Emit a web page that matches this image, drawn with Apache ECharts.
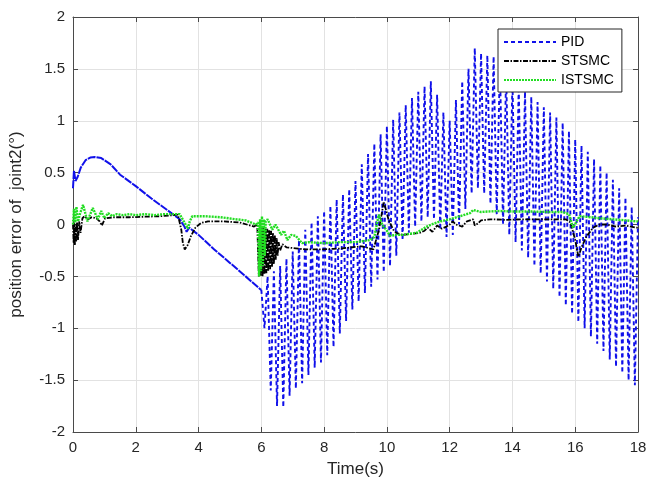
<!DOCTYPE html>
<html><head><meta charset="utf-8">
<script src="https://cdn.jsdelivr.net/npm/echarts@6/dist/echarts.min.js"></script>
<style>html,body{margin:0;padding:0;background:#fff}#c{width:650px;height:483px}</style>
</head><body><div id="c"></div>
<script>
const seriesNames = ['PID', 'STSMC', 'ISTSMC'];
const xLabelName = 'Time(s)';
const yLabelName = 'position error of  joint2(\u00b0)';

// PID, smooth part (0-6 s)
const pidSmooth = [
  [0,0.35],[0.03,0.52],[0.08,0.42],[0.15,0.46],[0.25,0.55],[0.4,0.62],[0.55,0.645],[0.7,0.65],
  [0.9,0.64],[1.2,0.58],[1.5,0.48],[2.0,0.37],[2.5,0.25],[3.0,0.14],[3.4,0.05],[3.55,-0.02],
  [3.62,-0.07],[3.7,-0.03],[4.0,-0.1],[4.5,-0.24],[5.0,-0.37],[5.5,-0.5],[5.95,-0.62],[6.0,-0.63]
];
// PID, oscillating part (6-18 s): successive peaks and troughs
const pidOsc = [
  [6.0,-0.63],[6.1,-1.0],[6.2,-0.5],[6.3,-1.6],[6.4,-0.45],[6.5,-1.75],[6.6,-0.4],[6.7,-1.76],
  [6.8,-0.33],[6.9,-1.65],[7.0,-0.26],[7.1,-1.58],[7.2,-0.15],[7.3,-1.53],[7.4,-0.05],[7.5,-1.45],
  [7.6,0.02],[7.7,-1.38],[7.8,0.08],[7.9,-1.33],[8.0,0.13],[8.1,-1.26],[8.2,0.18],[8.3,-1.18],
  [8.4,0.24],[8.5,-1.05],[8.6,0.29],[8.7,-0.93],[8.8,0.34],[8.9,-0.82],[9.0,0.42],[9.1,-0.74],
  [9.2,0.58],[9.3,-0.66],[9.4,0.68],[9.5,-0.6],[9.6,0.78],[9.7,-0.53],[9.8,0.87],[9.9,-0.46],
  [10.0,0.95],[10.1,-0.4],[10.2,1.01],[10.3,-0.3],[10.4,1.08],[10.5,-0.15],[10.6,1.15],[10.7,-0.08],
  [10.8,1.22],[10.9,-0.02],[11.0,1.28],[11.1,0.03],[11.2,1.33],[11.3,0.07],[11.4,1.38],[11.5,0.05],
  [11.6,1.25],[11.7,-0.05],[11.8,1.08],[11.9,-0.12],[12.0,1.0],[12.1,-0.1],[12.2,1.2],[12.3,0.0],
  [12.4,1.38],[12.5,0.15],[12.6,1.5],[12.7,0.3],[12.8,1.70],[12.9,0.35],[13.0,1.65],[13.1,0.3],
  [13.2,1.63],[13.3,0.2],[13.4,1.62],[13.5,0.1],[13.6,1.55],[13.7,0.0],[13.8,1.46],[13.9,-0.1],
  [14.0,1.38],[14.1,-0.17],[14.2,1.33],[14.3,-0.25],[14.4,1.28],[14.5,-0.32],[14.6,1.23],[14.7,-0.4],
  [14.8,1.18],[14.9,-0.47],[15.0,1.13],[15.1,-0.55],[15.2,1.08],[15.3,-0.62],[15.4,1.03],[15.5,-0.7],
  [15.6,0.98],[15.7,-0.78],[15.8,0.90],[15.9,-0.86],[16.0,0.82],[16.1,-0.94],[16.2,0.76],[16.3,-1.0],
  [16.4,0.70],[16.5,-1.08],[16.6,0.63],[16.7,-1.15],[16.8,0.57],[16.9,-1.22],[17.0,0.50],[17.1,-1.3],
  [17.2,0.43],[17.3,-1.37],[17.4,0.35],[17.5,-1.43],[17.6,0.26],[17.7,-1.5],[17.8,0.17],[17.9,-1.55],
  [18.0,0.07]
];

const stsmcData = [
  [0,0.0],[0.02,-0.18],[0.04,0.02],[0.06,-0.2],[0.08,0.0],[0.1,-0.17],[0.13,0.02],[0.16,-0.15],
  [0.2,0.03],[0.24,-0.08],[0.3,0.06],[0.37,0.08],[0.48,0.05],[0.6,0.07],[0.75,0.06],[0.85,0.03],
  [0.92,-0.01],[1.02,0.06],[1.3,0.07],[1.8,0.07],[2.3,0.075],[2.8,0.08],[3.2,0.09],[3.34,0.095],
  [3.45,-0.05],[3.5,-0.18],[3.56,-0.24],[3.65,-0.2],[3.76,-0.11],[3.9,-0.03],[4.08,0.015],[4.3,0.03],
  [4.8,0.03],[5.3,0.02],[5.77,-0.02],[5.87,0.0],
  [5.92,-0.5],[5.95,-0.02],[5.98,-0.5],[6.01,-0.03],[6.04,-0.5],[6.07,-0.03],[6.1,-0.48],[6.13,-0.04],
  [6.16,-0.47],[6.19,-0.04],[6.22,-0.45],[6.25,-0.05],[6.28,-0.43],[6.31,-0.06],[6.34,-0.41],[6.37,-0.08],
  [6.4,-0.38],[6.43,-0.1],[6.46,-0.34],[6.49,-0.13],[6.52,-0.3],[6.55,-0.17],[6.6,-0.25],
  [6.67,-0.19],[6.8,-0.22],[7.1,-0.23],[7.4,-0.24],[7.9,-0.24],[8.3,-0.235],[8.58,-0.23],[9.2,-0.21],
  [9.57,-0.24],[9.75,-0.05],[9.9,0.22],[10.05,0.05],[10.2,-0.05],[10.3,-0.08],[10.5,-0.1],[10.8,-0.09],
  [11.05,-0.08],[11.2,-0.06],[11.3,-0.03],[11.45,-0.07],[11.6,-0.01],[11.75,-0.04],[11.9,-0.02],[12.0,0.0],
  [12.1,0.03],[12.2,0.0],[12.4,-0.02],[12.55,0.03],[12.75,0.05],[12.8,-0.01],[12.9,0.01],[13.0,0.04],
  [13.3,0.05],[13.8,0.045],[14.3,0.05],[14.8,0.05],[15.3,0.05],[15.7,0.05],[15.85,0.02],[16.0,-0.15],
  [16.1,-0.31],[16.2,-0.22],[16.35,-0.12],[16.57,-0.03],[16.78,0.0],[17.0,0.0],[17.3,-0.02],[17.6,-0.01],
  [17.94,-0.03],[18,-0.03]
];

const istsmcData = [
  [0,0.0],[0.03,0.15],[0.07,0.02],[0.11,0.17],[0.16,0.03],[0.22,0.1],[0.32,0.19],[0.46,0.03],
  [0.63,0.16],[0.79,0.05],[0.9,0.13],[1.0,0.06],[1.12,0.11],[1.25,0.08],[1.4,0.1],[1.6,0.09],
  [1.8,0.1],[2.0,0.09],[2.3,0.1],[2.6,0.09],[2.9,0.1],[3.2,0.1],[3.4,0.1],[3.55,0.02],[3.66,-0.04],
  [3.72,0.03],[3.8,0.08],[4.2,0.08],[4.7,0.07],[5.2,0.05],[5.5,0.04],[5.83,0.0],[5.9,0.02],
  [5.93,-0.5],[5.96,0.05],[5.99,-0.45],[6.02,0.08],[6.05,-0.4],[6.08,0.05],[6.11,-0.3],[6.14,0.03],
  [6.2,0.05],[6.35,-0.05],[6.45,0.0],[6.63,-0.1],[6.72,-0.06],[6.83,-0.15],[6.95,-0.1],[7.1,-0.11],
  [7.3,-0.18],[7.5,-0.17],[8.0,-0.18],[8.5,-0.17],[9.0,-0.17],[9.47,-0.15],[9.6,-0.12],[9.74,0.095],
  [9.85,0.0],[10.0,-0.06],[10.1,-0.11],[10.3,-0.1],[10.5,-0.1],[10.95,-0.08],[11.27,-0.02],[11.5,0.01],
  [11.7,0.03],[12.0,0.05],[12.33,0.08],[12.65,0.11],[12.75,0.14],[13.0,0.12],[13.2,0.125],[13.6,0.13],
  [14.0,0.125],[14.65,0.125],[15.2,0.12],[15.6,0.12],[15.8,0.1],[15.93,-0.03],[16.14,0.08],[16.5,0.07],
  [16.78,0.06],[17.2,0.05],[17.6,0.04],[17.94,0.03],[18,0.03]
];

const FONT = 'Liberation Sans, Arial, sans-serif';
const chart = echarts.init(document.getElementById('c'), null, {renderer: 'canvas'});
const axisColor = '#4a4a4a';
const gridColor = '#e2e2e2';
const blue = '#1010ea';
const green = '#22dd22';

chart.setOption({
  animation: false,
  backgroundColor: '#fff',
  grid: {left: 72, right: 12, top: 17, bottom: 51, containLabel: false},
  legend: {
    orient: 'vertical', left: 498, top: 29,
    padding: [6, 8, 5, 5],
    itemWidth: 52, itemHeight: 14, itemGap: 5,
    backgroundColor: '#fff', borderColor: '#262626', borderWidth: 1,
    itemStyle: {opacity: 0, color: 'rgba(0,0,0,0)', borderWidth: 0},
    textStyle: {fontSize: 14, color: '#000', fontFamily: FONT},
    data: seriesNames
  },
  xAxis: [{
    type: 'value', min: 0, max: 18, interval: 2, position: 'bottom',
    name: xLabelName, nameLocation: 'middle', nameGap: 29,
    nameTextStyle: {fontSize: 17, color: '#262626', fontFamily: FONT},
    axisLine: {onZero: false, lineStyle: {color: axisColor, width: 1}},
    axisTick: {inside: true, length: 5, lineStyle: {color: axisColor}},
    axisLabel: {fontSize: 15, color: '#262626', margin: 8, fontFamily: FONT},
    splitLine: {show: true, lineStyle: {color: gridColor, width: 1}}
  }, {
    type: 'value', min: 0, max: 18, interval: 2, position: 'top',
    axisLine: {onZero: false, lineStyle: {color: axisColor, width: 1}},
    axisTick: {inside: true, length: 5, lineStyle: {color: axisColor}},
    axisLabel: {show: false}, splitLine: {show: false}
  }],
  yAxis: [{
    type: 'value', min: -2, max: 2, interval: 0.5, position: 'left',
    name: yLabelName, nameLocation: 'middle', nameGap: 48, nameRotate: 90,
    nameTextStyle: {fontSize: 17, color: '#262626', fontFamily: FONT},
    axisLine: {show: true, onZero: false, lineStyle: {color: axisColor, width: 1}},
    axisTick: {show: true, inside: true, length: 5, lineStyle: {color: axisColor}},
    axisLabel: {fontSize: 15, color: '#262626', margin: 8, fontFamily: FONT},
    splitLine: {show: true, lineStyle: {color: gridColor, width: 1}}
  }, {
    type: 'value', min: -2, max: 2, interval: 0.5, position: 'right',
    axisLine: {show: true, onZero: false, lineStyle: {color: axisColor, width: 1}},
    axisTick: {show: true, inside: true, length: 5, lineStyle: {color: axisColor}},
    axisLabel: {show: false}, splitLine: {show: false}
  }],
  series: [{
    name: seriesNames[0], type: 'line', data: pidOsc, xAxisIndex: 0, yAxisIndex: 0,
    symbol: 'none', showSymbol: false, z: 2,
    lineStyle: {color: blue, width: 1.9, type: [4, 3]},
    itemStyle: {color: blue}
  }, {
    name: seriesNames[0], type: 'line', data: pidSmooth, xAxisIndex: 0, yAxisIndex: 0,
    symbol: 'none', showSymbol: false, z: 2,
    lineStyle: {color: blue, width: 2, type: [8, 1]},
    itemStyle: {color: blue}
  }, {
    name: seriesNames[1], type: 'line', data: stsmcData, xAxisIndex: 0, yAxisIndex: 0,
    symbol: 'none', showSymbol: false, z: 3,
    lineStyle: {color: '#000', width: 1.8, type: [5, 1.5, 1.5, 1.5]},
    itemStyle: {color: '#000'}
  }, {
    name: seriesNames[2], type: 'line', data: istsmcData, xAxisIndex: 0, yAxisIndex: 0,
    symbol: 'none', showSymbol: false, z: 4,
    lineStyle: {color: green, width: 2.4, type: [2, 1]},
    itemStyle: {color: green}
  }]
});
</script>
</body></html>
